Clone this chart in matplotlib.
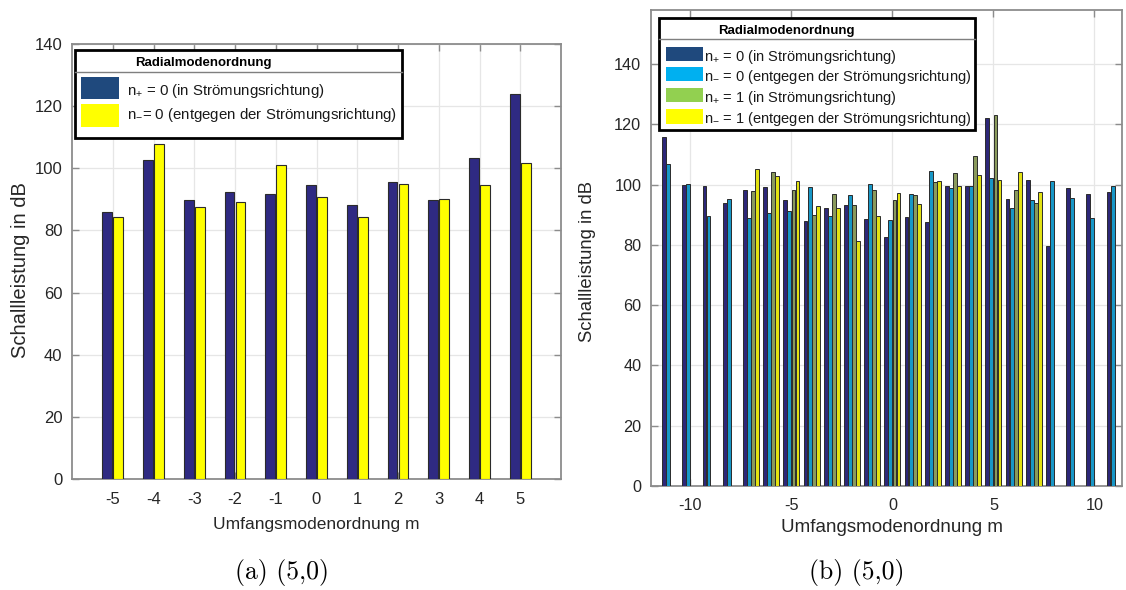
import numpy as np
import matplotlib
matplotlib.use("Agg")
import matplotlib.pyplot as plt
from matplotlib.patches import Rectangle
from matplotlib.lines import Line2D

# ---------------- data ----------------
# (a) circumferential mode order m and sound power of the two radial modes
m_a = [-5, -4, -3, -2, -1, 0, 1, 2, 3, 4, 5]
a_np0 = [85.8, 102.8, 89.7, 92.5, 91.8, 94.5, 88.1, 95.6, 89.9, 103.2, 124.0]
a_nm0 = [84.4, 107.7, 87.5, 89.0, 101.1, 90.9, 84.3, 94.8, 90.0, 94.5, 101.6]

# (b) m = -11 ... 11, radial orders n = 0 and n = 1 (n = 1 only cut-on for |m| <= 7)
nan = np.nan
m_b = list(range(-11, 12))
b_np0 = [115.7, 99.8, 99.5, 93.9, 98.4, 99.2, 95.0, 87.9, 92.3, 93.3, 88.6, 82.5,
         89.2, 87.6, 99.6, 99.6, 122.0, 95.2, 101.6, 79.7, 99.0, 96.9, 97.7]
b_nm0 = [106.8, 100.4, 89.5, 95.1, 89.0, 90.5, 91.3, 99.1, 89.5, 96.7, 100.4, 88.4,
         96.8, 104.6, 98.8, 99.6, 102.3, 92.2, 94.9, 101.4, 95.6, 89.1, 99.6]
b_np1 = [nan] * 4 + [98.0, 104.1, 98.4, 89.9, 96.9, 93.3, 98.3, 95.0, 96.5, 101.0,
                     103.9, 109.5, 123.3, 98.2, 94.0] + [nan] * 4
b_nm1 = [nan] * 4 + [105.1, 103.0, 101.4, 92.8, 92.4, 81.2, 89.6, 97.4, 93.7, 101.3,
                     99.6, 103.1, 101.7, 104.3, 97.5] + [nan] * 4

legend_title = "Radialmodenordnung"
labels_a = [r"n$_{+}$ = 0 (in Strömungsrichtung)",
            r"n$_{-}$= 0 (entgegen der Strömungsrichtung)"]
labels_b = [r"n$_{+}$ = 0 (in Strömungsrichtung)",
            r"n$_{-}$ = 0 (entgegen der Strömungsrichtung)",
            r"n$_{+}$ = 1 (in Strömungsrichtung)",
            r"n$_{-}$ = 1 (entgegen der Strömungsrichtung)"]

# ---------------- style ----------------
FAM = ["Liberation Sans", "DejaVu Sans"]
plt.rcParams["font.family"] = FAM
plt.rcParams["mathtext.fontset"] = "custom"
plt.rcParams["mathtext.rm"] = "Liberation Sans"
plt.rcParams["mathtext.it"] = "Liberation Sans"
plt.rcParams["mathtext.default"] = "regular"
W, H = 1126, 590
fig = plt.figure(figsize=(W / 100, H / 100), dpi=100, facecolor="white")

bar_cols_a = ["#2f2a82", "#ffff00"]
bar_cols_b = ["#2d2778", "#1897c6", "#8a9a5c", "#e2e212"]
leg_cols_a = ["#1f497d", "#ffff00"]
leg_cols_b = ["#1f497d", "#00b0f0", "#92d050", "#ffff00"]
spine_col = "#8c8c8c"
grid_col = "#e6e6e6"
edge_col = "#2b2b2b"


def px(x, y):
    """pixel position (from top-left) -> figure fraction"""
    return x / W, 1 - y / H


def style_axes(ax, tick_size):
    ax.set_facecolor("white")
    for s in ax.spines.values():
        s.set_color(spine_col)
        s.set_linewidth(1.3)
    ax.tick_params(direction="in", length=5, width=1.0, color=spine_col,
                   top=True, right=True, labelsize=tick_size, labelcolor="#262626")
    ax.tick_params(axis="x", pad=9)
    ax.tick_params(axis="y", pad=7)
    ax.grid(True, color=grid_col, linewidth=0.9)
    ax.set_axisbelow(True)


def draw_legend(x0, y0, x1, y1, sep_y, title_xy, title_size, rows, text_size):
    # outer box
    fig.add_artist(Rectangle(px(x0, y1), (x1 - x0) / W, (y1 - y0) / H,
                             transform=fig.transFigure, facecolor="white",
                             edgecolor="black", linewidth=2.0, zorder=10))
    fig.add_artist(Line2D([x0 / W, x1 / W], [1 - sep_y / H, 1 - sep_y / H],
                          transform=fig.transFigure, color="#7f7f7f",
                          linewidth=1.0, zorder=11))
    fig.text(*px(*title_xy), legend_title, fontsize=title_size, fontweight="bold",
             ha="center", va="center", zorder=12)
    for (pxl, pyt, pxr, pyb, col, tx, ty, lab) in rows:
        fig.add_artist(Rectangle(px(pxl, pyb), (pxr - pxl) / W, (pyb - pyt) / H,
                                 transform=fig.transFigure, facecolor=col,
                                 edgecolor="none", zorder=12))
        fig.text(*px(tx, ty), lab, fontsize=text_size, ha="left", va="center_baseline",
                 color="#1a1a1a", zorder=12)


# ---------------- (a) ----------------
ax1 = fig.add_axes([72 / W, (H - 479) / H, 489 / W, 435 / H])
style_axes(ax1, 12)
xa = np.array(m_a, dtype=float)
ax1.bar(xa - 0.135, a_np0, width=0.24, color=bar_cols_a[0], edgecolor=edge_col,
        linewidth=0.8, zorder=3)
ax1.bar(xa + 0.135, a_nm0, width=0.24, color=bar_cols_a[1], edgecolor=edge_col,
        linewidth=0.8, zorder=3)
ax1.set_xlim(-6, 6)
ax1.set_ylim(0, 140)
ax1.set_xticks(m_a)
ax1.set_xticklabels([str(v) for v in m_a])
ax1.set_yticks(np.arange(0, 141, 20))
ax1.set_xlabel("Umfangsmodenordnung m", fontsize=12.5, color="#262626")
ax1.xaxis.set_label_coords((316 - 72) / 489, (479 - 524) / 435)
ax1.xaxis.label.set_va("center")
ax1.set_ylabel("Schallleistung in dB", fontsize=14.5, color="#262626")
ax1.yaxis.set_label_coords((21 - 72) / 489, (479 - 270) / 435)
ax1.yaxis.label.set_va("center")

draw_legend(75, 50, 402, 138, 72, (203.5, 63), 9.5,
            [(81, 77, 119, 99, leg_cols_a[0], 127, 89, labels_a[0]),
             (81, 104, 119, 127, leg_cols_a[1], 127, 113, labels_a[1])], 10.8)

# ---------------- (b) ----------------
ax2 = fig.add_axes([651 / W, (H - 486) / H, 470.7 / W, 476 / H])
style_axes(ax2, 11.7)
xb = np.array(m_b, dtype=float)
wb = 0.19
for k, (vals, col) in enumerate(zip([b_np0, b_nm0, b_np1, b_nm1], bar_cols_b)):
    ax2.bar(xb + (k - 1.5) * 0.2, vals, width=wb, color=col, edgecolor=edge_col,
            linewidth=0.7, zorder=3)
ax2.set_xlim(-11.95, 11.35)
ax2.set_ylim(0, 158)
ax2.set_xticks([-10, -5, 0, 5, 10])
ax2.set_xticklabels(["-10", "-5", "0", "5", "10"])
ax2.set_yticks(np.arange(0, 141, 20))
ax2.set_xlabel("Umfangsmodenordnung m", fontsize=13.5, color="#262626")
ax2.xaxis.set_label_coords((892 - 651) / 470.7, (486 - 527) / 476)
ax2.xaxis.label.set_va("center")
ax2.set_ylabel("Schallleistung in dB", fontsize=13.3, color="#262626")
ax2.yaxis.set_label_coords((587 - 651) / 470.7, (486 - 262) / 476)
ax2.yaxis.label.set_va("center")

draw_legend(659, 18, 975, 130, 38.5, (786.7, 31), 9.5,
            [(666, 47, 703, 61, leg_cols_b[0], 704, 54, labels_b[0]),
             (666, 67, 703, 81, leg_cols_b[1], 704, 74.5, labels_b[1]),
             (666, 88, 703, 102, leg_cols_b[2], 704, 95.8, labels_b[2]),
             (666, 109, 703, 124, leg_cols_b[3], 704, 117, labels_b[3])], 10.5)

# ---------------- captions ----------------
fig.text(*px(282, 573), "(a) (5,0)", family="cmr10", fontsize=18.5, ha="center",
         va="center")
fig.text(*px(857, 573), "(b) (5,0)", family="cmr10", fontsize=18.5, ha="center",
         va="center")

fig.savefig("out.png", dpi=100, facecolor="white")
